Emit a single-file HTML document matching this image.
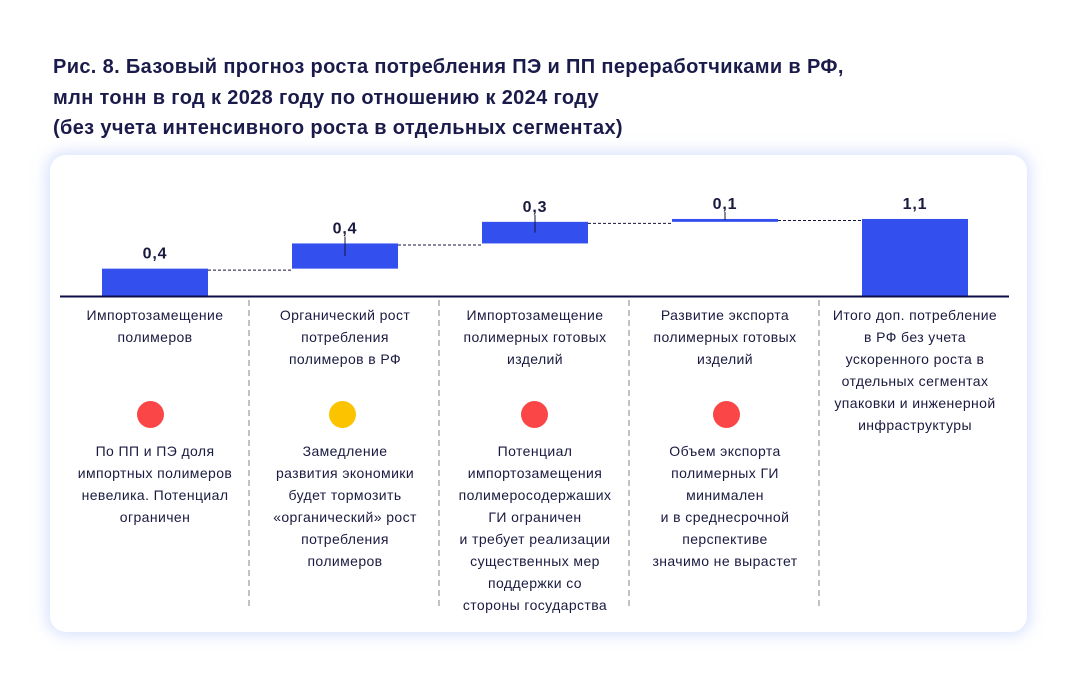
<!DOCTYPE html>
<html><head><meta charset="utf-8"><style>
body{margin:0;width:1077px;height:682px;background:#fff;font-family:"Liberation Sans",sans-serif;color:#14143c;position:relative;overflow:hidden}
.title{position:absolute;left:53px;top:52px;font-size:20px;font-weight:bold;line-height:30.5px;color:#1b1b4b;letter-spacing:0.35px}
.card{position:absolute;left:50px;top:155px;width:977px;height:477px;border-radius:16px;background:#fff;box-shadow:0 0 14px 4px rgba(190,205,250,0.55)}
.col{position:absolute;width:190px;text-align:center;font-size:14px;line-height:22px;color:#1a1a40;letter-spacing:0.4px}
.dot{position:absolute;width:27px;height:27px;border-radius:50%}
</style></head><body>
<div class="title">Рис. 8. Базовый прогноз роста потребления ПЭ и ПП переработчиками в РФ,<br>млн тонн в год к 2028 году по отношению к 2024 году<br>(без учета интенсивного роста в отдельных сегментах)</div>
<div class="card"></div>
<svg id="chart" width="1077" height="682" style="position:absolute;left:0;top:0"></svg>
<div class="col" style="left:60px;top:304px">Импортозамещение<br>полимеров</div>
<div class="col" style="left:250px;top:304px">Органический рост<br>потребления<br>полимеров в РФ</div>
<div class="col" style="left:440px;top:304px">Импортозамещение<br>полимерных готовых<br>изделий</div>
<div class="col" style="left:630px;top:304px">Развитие экспорта<br>полимерных готовых<br>изделий</div>
<div class="col" style="left:820px;top:304px">Итого доп. потребление<br>в РФ без учета<br>ускоренного роста в<br>отдельных сегментах<br>упаковки и инженерной<br>инфраструктуры</div>
<div class="dot" style="left:137px;top:401px;background:#fa4646"></div>
<div class="dot" style="left:329px;top:401px;background:#fbc300"></div>
<div class="dot" style="left:521px;top:401px;background:#fa4646"></div>
<div class="dot" style="left:713px;top:401px;background:#fa4646"></div>
<div class="col" style="left:60px;top:440px">По ПП и ПЭ доля<br>импортных полимеров<br>невелика. Потенциал<br>ограничен</div>
<div class="col" style="left:250px;top:440px">Замедление<br>развития экономики<br>будет тормозить<br>«органический» рост<br>потребления<br>полимеров</div>
<div class="col" style="left:440px;top:440px">Потенциал<br>импортозамещения<br>полимеросодержаших<br>ГИ ограничен<br>и требует реализации<br>существенных мер<br>поддержки со<br>стороны государства</div>
<div class="col" style="left:630px;top:440px">Объем экспорта<br>полимерных ГИ<br>минимален<br>и в среднесрочной<br>перспективе<br>значимо не вырастет</div>
<script>
const categories=['Импортозамещение полимеров','Органический рост','Импортозамещение ГИ','Развитие экспорта ГИ','Итого'];
const deltas=[0.38,0.35,0.30,0.04];
const valueLabels=['0,4','0,4','0,3','0,1','1,1'];
const svg=document.getElementById('chart');
const NS='http://www.w3.org/2000/svg';
const baseY=296,scale=72,colW=190,x0=60,barW=106;
const y=v=>baseY-v*scale;
const xc=i=>x0+95+i*colW;
function mk(t,a){const e=document.createElementNS(NS,t);for(const k in a)e.setAttribute(k,a[k]);svg.appendChild(e);return e;}
let cum=0;const total=deltas.reduce((a,b)=>a+b,0);
const starts=[],ends=[];
deltas.forEach(d=>{starts.push(cum);cum+=d;ends.push(cum);});
starts.push(0);ends.push(total);
for(let i=0;i<5;i++){
  const top=y(ends[i]),bot=y(starts[i]);
  const r=mk('rect',{x:xc(i)-barW/2,y:top,width:barW,height:Math.max(bot-top,2),fill:'#3350ef'});
  
  
  if(i>0&&i<4){const l=mk('line',{x1:xc(i),x2:xc(i),y1:top-7,y2:top+(bot-top)*0.5,stroke:'#14143c','stroke-width':1});
    }
  const t=mk('text',{x:xc(i),y:top-10,'text-anchor':'middle','font-size':'16','font-weight':'bold',fill:'#1a1a40','font-family':'Liberation Sans, sans-serif','letter-spacing':'0.8'});
  t.textContent=valueLabels[i];
  
  
  if(i<4){const c=mk('line',{x1:xc(i)+barW/2,x2:xc(i+1)-barW/2,y1:y(ends[i])+1.5,y2:y(ends[i])+1.5,stroke:'#14143c','stroke-width':1,'stroke-dasharray':'3,2'});
    }
}
const ax=mk('line',{x1:60,x2:1009,y1:baseY+0.5,y2:baseY+0.5,stroke:'#0e0e4a','stroke-width':2});


for(let i=1;i<5;i++){const d=mk('line',{x1:x0+i*colW-1,x2:x0+i*colW-1,y1:300,y2:606,stroke:'#999','stroke-width':1.2,'stroke-dasharray':'6,4'});
  }
</script>
</body></html>
